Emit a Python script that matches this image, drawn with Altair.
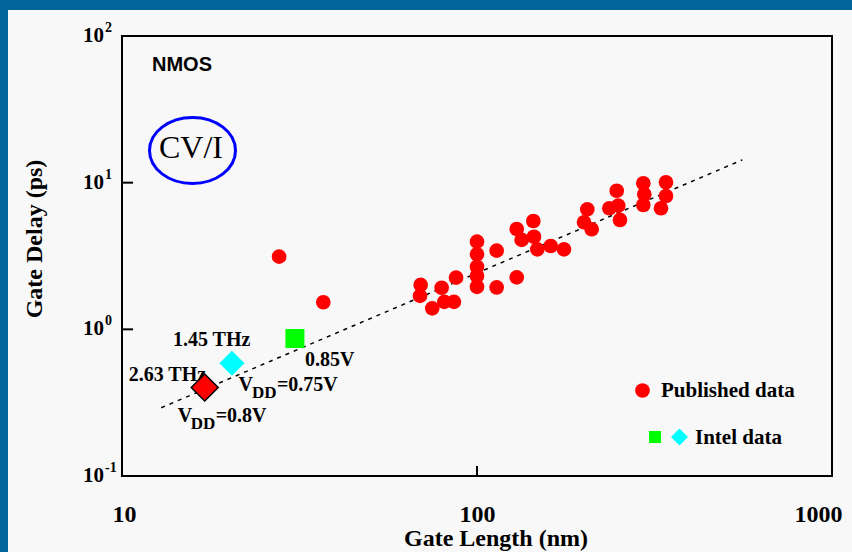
import altair as alt
import pandas as pd

# Published NMOS devices: gate length (nm) and CV/I gate delay (ps)
pub_len = [69.4, 69.1, 74.8, 79.5, 80.9, 86.1, 87.3,
           100, 100, 100, 100, 100,
           113.6, 113.6, 129.4, 129.4, 133.6, 144.1, 144.7, 147.9, 161.3, 175.8,
           200.2, 204.5, 210.4, 235.9, 247.5, 250.0, 252.8,
           294.1, 296.0, 294.1, 340.7, 340.7, 329.8,
           27.7, 36.9]
pub_delay = [2.01, 1.69, 1.39, 1.92, 1.54, 1.54, 2.25,
             3.96, 3.25, 2.67, 2.31, 1.95,
             3.44, 1.93, 2.26, 4.83, 4.07, 5.48, 4.28, 3.51, 3.70, 3.51,
             5.37, 6.58, 4.81, 6.69, 8.81, 6.97, 5.57,
             9.90, 8.33, 7.04, 10.06, 8.11, 6.69,
             3.13, 1.53]

# Intel devices
thz263_len, thz263_delay = [17.1], [0.401]   # 2.63 THz, VDD=0.8V
thz145_len, thz145_delay = [20.4], [0.587]   # 1.45 THz, VDD=0.75V
v085_len, v085_delay = [30.7], [0.866]       # 0.85V

# Dashed trend line end points
trend_len = [12.9, 559.0]
trend_delay = [0.292, 14.3]

x_ticks = [10, 100, 1000]
y_ticks = [0.1, 1, 10, 100]
y_exps = ["-1", "0", "1", "2"]
inner_y_ticks = [1, 10]
inner_x_ticks = [100]

SERIF = "Liberation Serif"
SANS = "Liberation Sans"
W, H = 710, 440
BLUE_FRAME = "#006699"
BG = "#f8f8f8"

xscale = alt.Scale(type="log", domain=[10, 1000])
yscale = alt.Scale(type="log", domain=[0.1, 100])
xaxis = alt.Axis(values=x_ticks, title=None, ticks=False, tickSize=0, domain=False,
                 grid=False, labelFont=SERIF, labelFontWeight="bold", labelFontSize=24,
                 labelColor="black", labelPadding=26, labelFlush=True,
                 labelFlushOffset=10, format="d")


def X(field):
    return alt.X(field, type="quantitative", scale=xscale, axis=xaxis)


def Y(field):
    return alt.Y(field, type="quantitative", scale=yscale, axis=None)


def df_xy(xs, ys):
    return pd.DataFrame({"len": xs, "delay": ys})


pub_df = df_xy(pub_len, pub_delay)
red_df = df_xy(thz263_len, thz263_delay)
cyan_df = df_xy(thz145_len, thz145_delay)
green_df = df_xy(v085_len, v085_delay)
trend_df = df_xy(trend_len, trend_delay)
ytick_df = pd.DataFrame({"v": y_ticks, "e": y_exps})
inner_y_df = pd.DataFrame({"v": inner_y_ticks})
inner_x_df = pd.DataFrame({"v": inner_x_ticks})
one = pd.DataFrame({"k": [0]})


def text_at(text, x, y, size, font=SERIF, weight="bold", align="left",
            baseline="middle", angle=0):
    return alt.Chart(one).mark_text(
        text=text, font=font, fontWeight=weight, fontSize=size, align=align,
        baseline=baseline, angle=angle, color="black"
    ).encode(x=alt.value(x), y=alt.value(y))


def note(df, text, dx, dy, size=20):
    return alt.Chart(df).mark_text(
        text=text, align="left", baseline="alphabetic", dx=dx, dy=dy,
        font=SERIF, fontWeight="bold", fontSize=size, color="black"
    ).encode(x=X("len"), y=Y("delay"))


# blue frame around the slide
frame_left = alt.Chart(one).mark_rect(color=BLUE_FRAME).encode(
    x=alt.value(-122), x2=alt.value(-114), y=alt.value(-36), y2=alt.value(516))
frame_top = alt.Chart(one).mark_rect(color=BLUE_FRAME).encode(
    x=alt.value(-122), x2=alt.value(730), y=alt.value(-36), y2=alt.value(-26))

trend = alt.Chart(trend_df).mark_line(
    color="black", strokeWidth=1.5, strokeDash=[4, 5]
).encode(x=X("len"), y=Y("delay"))

pub = alt.Chart(pub_df).mark_point(
    shape="circle", filled=True, size=215, fill="#ff0000", strokeWidth=0, opacity=1
).encode(x=X("len"), y=Y("delay"))

# inner tick marks
yt = alt.Chart(inner_y_df).mark_rule(color="black", strokeWidth=2).encode(
    x=alt.value(0), x2=alt.value(11), y=Y("v"))
xt = alt.Chart(inner_x_df).mark_rule(color="black", strokeWidth=2).encode(
    x=X("v"), y=alt.value(H), y2=alt.value(H - 10))

# y tick labels as powers of ten
ylab = alt.Chart(ytick_df).mark_text(
    text="10", align="right", baseline="middle", font=SERIF, fontWeight="bold",
    fontSize=21, color="black"
).encode(x=alt.value(-18), y=Y("v"))
yexp = alt.Chart(ytick_df).mark_text(
    align="left", baseline="middle", dy=-8, font=SERIF, fontWeight="bold",
    fontSize=14, color="black"
).encode(x=alt.value(-17), y=Y("v"), text="e:N")

annotations = [
    note(red_df, "2.63 THz", -76, -7),
    note(red_df, "V", -27, 34),
    note(red_df, "DD", -14, 41, size=17),
    note(red_df, "=0.8V", 11, 34),
    note(cyan_df, "1.45 THz", -59, -17),
    note(cyan_df, "V", 6.5, 27.5),
    note(cyan_df, "DD", 20, 35, size=17),
    note(cyan_df, "=0.75V", 45, 27.5),
    note(green_df, "0.85V", 10, 27.5),
]

red_pt = alt.Chart(red_df).mark_point(
    shape="diamond", filled=True, size=729, fill="#ff0000", stroke="black",
    strokeWidth=1.5, opacity=1
).encode(x=X("len"), y=Y("delay"))
cyan_pt = alt.Chart(cyan_df).mark_point(
    shape="diamond", filled=True, size=625, fill="#00ffff", strokeWidth=0, opacity=1
).encode(x=X("len"), y=Y("delay"))
green_pt = alt.Chart(green_df).mark_point(
    shape="square", filled=True, size=361, fill="#00ff00", strokeWidth=0, opacity=1
).encode(x=X("len"), y=Y("delay"))

# CV/I badge
ELLIPSE = "M -1 0 A 1 0.767 0 1 0 1 0 A 1 0.767 0 1 0 -1 0 Z"
badge = alt.Chart(one).mark_point(
    shape=ELLIPSE, size=7396, filled=False, stroke="#0000ff", strokeWidth=3, opacity=1
).encode(x=alt.value(70.5), y=alt.value(114.5))
badge_text = text_at("CV/I", 69, 112, 32, weight="normal", align="center")
nmos = text_at("NMOS", 30, 29, 20, font=SANS)

# legend
leg_pub = alt.Chart(one).mark_point(
    shape="circle", filled=True, size=215, fill="#ff0000", strokeWidth=0, opacity=1
).encode(x=alt.value(520.5), y=alt.value(354.5))
leg_green = alt.Chart(one).mark_point(
    shape="square", filled=True, size=144, fill="#00ff00", strokeWidth=0, opacity=1
).encode(x=alt.value(533), y=alt.value(401))
leg_cyan = alt.Chart(one).mark_point(
    shape="diamond", filled=True, size=289, fill="#00ffff", strokeWidth=0, opacity=1
).encode(x=alt.value(557.5), y=alt.value(401))
leg_pub_txt = text_at("Published data", 539, 355, 21)
leg_int_txt = text_at("Intel data", 573, 402, 21)

x_title = text_at("Gate Length (nm)", 374, 503, 24, align="center")
y_title = text_at("Gate Delay (ps)", -87, 203, 24, align="center", angle=270)

chart = alt.layer(
    frame_left, frame_top, trend, pub, yt, xt, ylab, yexp, *annotations,
    red_pt, cyan_pt, green_pt, badge, badge_text, nmos,
    leg_pub, leg_green, leg_cyan, leg_pub_txt, leg_int_txt, x_title, y_title
).properties(
    width=W, height=H, autosize="none", background=BG,
    padding={"left": 122, "top": 36, "right": 20, "bottom": 76}
).configure_view(stroke="black", strokeWidth=2, fill=BG)

chart.save("out.html", embed_options={"renderer": "svg", "actions": False})
